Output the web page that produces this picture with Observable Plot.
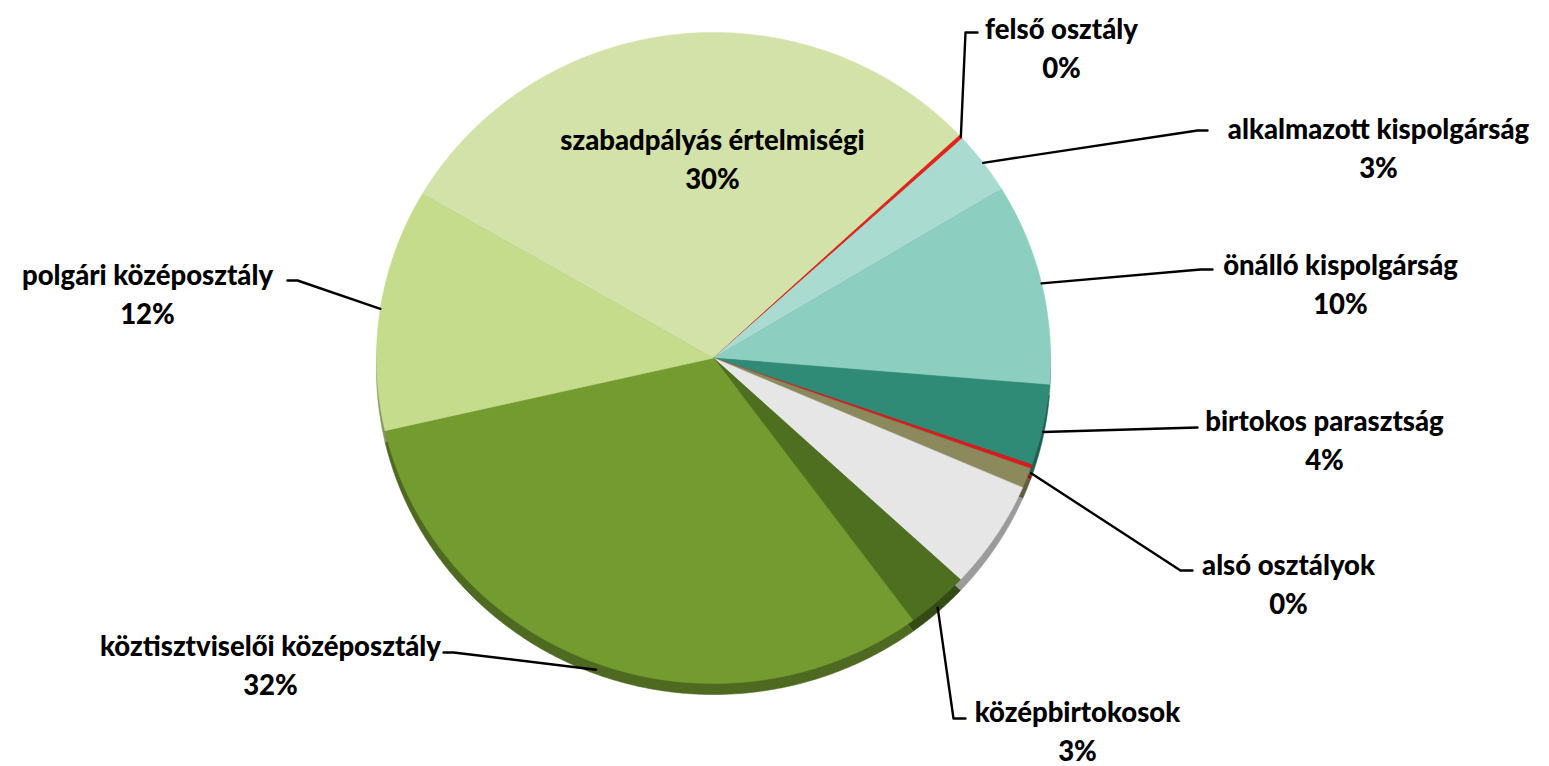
<!DOCTYPE html>
<html>
<head>
<meta charset="utf-8">
<script src="https://cdn.jsdelivr.net/npm/d3@7"></script>
<script src="https://cdn.jsdelivr.net/npm/@observablehq/plot@0.6"></script>
<style>
  html, body { margin: 0; padding: 0; background: #ffffff; }
  #chart svg { display: block; }
</style>
</head>
<body>
<div id="chart"></div>
<script>
// ---- data (clockwise, starting at the upper-left edge of the largest light slice)
const categories = [
  "szabadpályás értelmiségi",
  "felső osztály",
  "alkalmazott kispolgárság",
  "önálló kispolgárság",
  "birtokos parasztság",
  "alsó osztályok",
  "egyéb",
  "ismeretlen",
  "középbirtokosok",
  "köztisztviselői középosztály",
  "polgári középosztály"
];
const shares = [29.6, 0.2, 3.1, 10, 4, 0.2, 1, 5.4, 3, 31.5, 12];
const labelled = [true, true, true, true, true, true, false, false, true, true, true];
const sliceColors = ["#d3e2a9", "#e2231c", "#a9dbd0", "#8ccfc0", "#2f8b76", "#dc1a1c",
                     "#8c8a5c", "#e6e6e6", "#4f6f20", "#739b2f", "#c4dc8c"];
const startAngleDeg = -59.7;

// ---- label layout (pixel positions: first text line centre, leader elbow and tail)
const labelLayout = [
  {name: "szabadpályás értelmiségi",      tx: 712,  ty: 137},
  {name: "felső osztály",                 tx: 1061, ty: 26,  ex: 965,  ey: 32,  hx: 977},
  {name: "alkalmazott kispolgárság",      tx: 1378, ty: 126, ex: 1197, ey: 130, hx: 1207},
  {name: "önálló kispolgárság",           tx: 1340, ty: 262, ex: 1200, ey: 269, hx: 1212},
  {name: "birtokos parasztság",           tx: 1324, ty: 418, ex: 1197, ey: 427, hx: 1197},
  {name: "alsó osztályok",                tx: 1288, ty: 562, ex: 1180, ey: 570, hx: 1192},
  {name: "középbirtokosok",               tx: 1077, ty: 709, ex: 953,  ey: 718, hx: 965},
  {name: "köztisztviselői középosztály",  tx: 270,  ty: 643, ex: 453,  ey: 652, hx: 443},
  {name: "polgári középosztály",          tx: 147,  ty: 272, ex: 297,  ey: 280, hx: 287}
];

// ---- geometry derived from the data
const W = 1549, H = 766;
const xRange = [376, 1050], yRange = [683, 32];   // pie ellipse extent
const rimDepthPx = 11;
const px2x = d3.scaleLinear(xRange, [-1, 1]);
const px2y = d3.scaleLinear(yRange, [-1, 1]);
const rimDepth = Math.abs(px2y(0) - px2y(rimDepthPx));

const total = d3.sum(shares);
let acc = 0;
const slices = categories.map((name, i) => {
  const a0 = startAngleDeg + acc / total * 360;
  acc += shares[i];
  const a1 = startAngleDeg + acc / total * 360;
  return {name, value: shares[i], a0, a1, color: sliceColors[i],
          rim: d3.color(sliceColors[i]).darker(1.1).formatHex(), labelled: labelled[i]};
});
const polar = (deg, r = 1) => {
  const t = deg * Math.PI / 180;
  return {x: r * Math.sin(t), y: r * Math.cos(t)};
};
function slicePoints(s, dy, colorKey) {
  const n = Math.max(2, Math.ceil((s.a1 - s.a0) / 0.4));
  const pts = [{name: s.name, x: 0, y: dy, c: s[colorKey]}];
  for (let k = 0; k <= n; k++) {
    const p = polar(s.a0 + (s.a1 - s.a0) * k / n);
    pts.push({name: s.name, x: p.x, y: p.y + dy, c: s[colorKey]});
  }
  return pts;
}
const topPts = slices.flatMap(s => slicePoints(s, 0, "color"));
const rimPts = slices.flatMap(s => slicePoints(s, -rimDepth, "rim"));

const byName = new Map(slices.map(s => [s.name, s]));
const labelData = labelLayout.map(l => {
  const s = byName.get(l.name);
  return {
    name: l.name,
    text: `${l.name}\n${Math.round(s.value / total * 100)}%`,
    x: px2x(l.tx),
    y: px2y(l.ty + 19.5)
  };
});
const leaderPts = labelLayout.filter(l => l.ex !== undefined).flatMap(l => {
  const s = byName.get(l.name);
  const p = polar((s.a0 + s.a1) / 2);
  const start = {name: l.name, x: p.x, y: p.y < 0 ? p.y - rimDepth * 0.6 : p.y};
  return [start, {name: l.name, x: px2x(l.ex), y: px2y(l.ey)}, {name: l.name, x: px2x(l.hx), y: px2y(l.ey)}];
});

const chart = Plot.plot({
  width: W,
  height: H,
  margin: 0,
  x: {domain: [-1, 1], range: xRange, axis: null},
  y: {domain: [-1, 1], range: yRange, axis: null},
  color: {type: "identity"},
  style: {background: "#ffffff", overflow: "visible"},
  marks: [
    Plot.line(rimPts, {x: "x", y: "y", z: "name", fill: "c", stroke: "c", strokeWidth: 0.6, curve: "linear"}),
    Plot.line(topPts, {x: "x", y: "y", z: "name", fill: "c", stroke: "c", strokeWidth: 0.6, curve: "linear"}),
    Plot.line(leaderPts, {x: "x", y: "y", z: "name", stroke: "#000000", strokeWidth: 2.4, curve: "linear"}),
    Plot.text(labelData, {
      x: "x", y: "y", text: "text",
      fontFamily: "Lato", fontWeight: 900, fontSize: 27.5,
      lineHeight: 1.42, textAnchor: "middle", lineAnchor: "middle",
      fill: "#000000"
    })
  ]
});
document.getElementById("chart").append(chart);
</script>
</body>
</html>
